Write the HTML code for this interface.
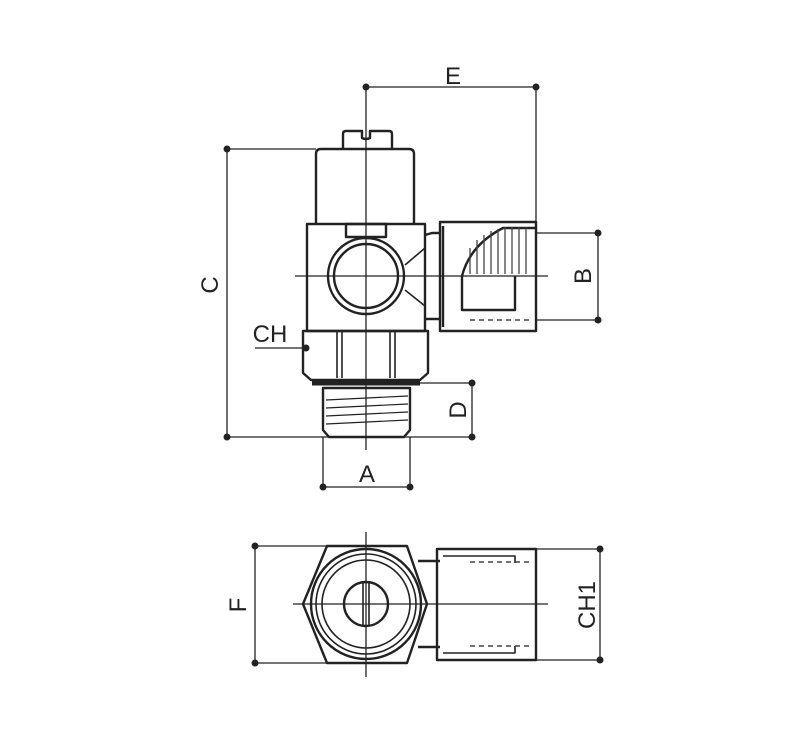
<!DOCTYPE html>
<html><head><style>html,body{margin:0;padding:0;background:#fff}svg{display:block}</style></head><body>
<svg width="806" height="736" viewBox="0 0 806 736" xmlns="http://www.w3.org/2000/svg" font-family="Liberation Sans, sans-serif">
<g stroke="#222" fill="none" stroke-width="1.3">
<!-- E dimension -->
<line x1="366" y1="87" x2="536" y2="87"/>
<line x1="536" y1="87" x2="536" y2="222"/>
<line x1="366" y1="87" x2="366" y2="450"/>
<!-- C -->
<line x1="227" y1="149" x2="316" y2="149"/>
<line x1="227" y1="149" x2="227" y2="437"/>
<line x1="227" y1="437" x2="472" y2="437"/>
<!-- B -->
<line x1="536" y1="233" x2="598" y2="233"/>
<line x1="536" y1="320" x2="598" y2="320"/>
<line x1="598" y1="233" x2="598" y2="320"/>
<!-- D -->
<line x1="420" y1="383" x2="472" y2="383"/>
<line x1="472" y1="383" x2="472" y2="437"/>
<!-- A -->
<line x1="323" y1="437" x2="323" y2="490"/>
<line x1="410" y1="437" x2="410" y2="490"/>
<line x1="323" y1="487" x2="410" y2="487"/>
<!-- CH leader -->
<line x1="255" y1="348" x2="306" y2="348"/>
<!-- horizontal centerline -->
<line x1="295" y1="276" x2="548" y2="276"/>
<!-- bottom view dims -->
<line x1="255" y1="546" x2="366" y2="546"/>
<line x1="255" y1="663" x2="366" y2="663"/>
<line x1="255" y1="546" x2="255" y2="663"/>
<line x1="536" y1="549" x2="600" y2="549"/>
<line x1="536" y1="660" x2="600" y2="660"/>
<line x1="600" y1="549" x2="600" y2="660"/>
<line x1="366" y1="532" x2="366" y2="677"/>
<line x1="293" y1="604" x2="548" y2="604"/>
</g>
<g fill="#222">
<circle cx="366" cy="87" r="3.5"/><circle cx="536" cy="87" r="3.5"/>
<circle cx="227" cy="149" r="3.5"/><circle cx="227" cy="437" r="3.5"/>
<circle cx="598" cy="233" r="3.5"/><circle cx="598" cy="320" r="3.5"/>
<circle cx="472" cy="383" r="3.5"/><circle cx="472" cy="437" r="3.5"/>
<circle cx="323" cy="487" r="3.5"/><circle cx="410" cy="487" r="3.5"/>
<circle cx="306" cy="348" r="3.5"/>
<circle cx="255" cy="546" r="3.5"/><circle cx="255" cy="663" r="3.5"/>
<circle cx="600" cy="549" r="3.5"/><circle cx="600" cy="660" r="3.5"/>
</g>
<g stroke="#222" fill="none" stroke-width="2.4" stroke-linejoin="round">
<!-- cap nub -->
<path d="M343 149 V134 Q343 131 346 131 H362 V138 Q366 140 370 138 V131 H389 Q392 131 392 134 V149"/>
<!-- cap -->
<path d="M316 224 V154 Q316 149 321 149 H409 Q414 149 414 154 V224"/>
<!-- body -->
<rect x="307" y="224" width="118" height="107"/>
<rect x="346" y="224" width="40" height="13"/>
<circle cx="366" cy="276" r="38"/>
<circle cx="366" cy="276" r="32"/>
<!-- neck -->
<path d="M425 235 L432 233 H440 M425 319 H440"/>
<path d="M425 248 L405 265 M405 290 L425 306" stroke-width="1.6"/>
<!-- side fitting -->
<rect x="440" y="222" width="96" height="109"/>
<path d="M443 226 V327"/>
<path d="M462 276 V310 H515 V276"/>
<path d="M462 276 Q470 245 503 228 H536" />
<!-- hex nut -->
<path d="M303 331 H428 V373 L420 380 H311 L303 373 Z"/>
<path d="M337 331 V378 M395 331 V378 M342 331 V378 M390 331 V378" stroke-width="1.6"/>
<path d="M312 383 H420" stroke-width="5"/>
<!-- thread -->
<path d="M323 388 H410 V430 L404 437 H329 L323 430 Z"/>
<path d="M326 400 L408 396 M326 408 L408 404 M326 416 L408 412 M326 424 L408 420" stroke-width="1.2"/>
<!-- bottom view hex -->
<path d="M327 546 H407 L427 604 L407 663 H327 L303 604 Z"/>
<circle cx="366" cy="604" r="55"/>
<circle cx="366" cy="604" r="50" stroke-width="1.6"/>
<circle cx="366" cy="604" r="44" stroke-width="1.6"/>
<circle cx="366" cy="604" r="22"/>
<path d="M363 583 V625 M369 583 V625" stroke-width="1.6"/>
<path d="M418 561 H440 M418 647 H440"/>
<rect x="437" y="549" width="99" height="111"/>
<path d="M443 556 H515 V563 M443 653 H515 V646" stroke-width="1.6"/>
</g>
<g stroke="#444" stroke-width="1.4" stroke-dasharray="5,4">
<line x1="470" y1="320" x2="532" y2="320"/>
<line x1="470" y1="562" x2="532" y2="562"/>
<line x1="470" y1="646" x2="532" y2="646"/>
</g>
<g stroke="#444" stroke-width="1.3">
<line x1="470" y1="274" x2="470" y2="248"/><line x1="477" y1="274" x2="477" y2="240"/><line x1="484" y1="274" x2="484" y2="235"/><line x1="491" y1="274" x2="491" y2="231"/><line x1="498" y1="274" x2="498" y2="229"/><line x1="505" y1="274" x2="505" y2="227"/><line x1="512" y1="274" x2="512" y2="227"/><line x1="519" y1="274" x2="519" y2="227"/><line x1="526" y1="274" x2="526" y2="227"/>
</g>
<g fill="#222" font-size="24">
<text x="453" y="84" text-anchor="middle">E</text>
<text x="210" y="285" text-anchor="middle" transform="rotate(-90 210 285)" dy="8">C</text>
<text x="270" y="342" text-anchor="middle">CH</text>
<text x="367" y="482" text-anchor="middle">A</text>
<text x="458" y="410" text-anchor="middle" transform="rotate(-90 458 410)" dy="8">D</text>
<text x="583" y="276" text-anchor="middle" transform="rotate(-90 583 276)" dy="8">B</text>
<text x="238" y="605" text-anchor="middle" transform="rotate(-90 238 605)" dy="8">F</text>
<text x="587" y="605" text-anchor="middle" transform="rotate(-90 587 605)" dy="8">CH1</text>
</g>
</svg>
</body></html>
